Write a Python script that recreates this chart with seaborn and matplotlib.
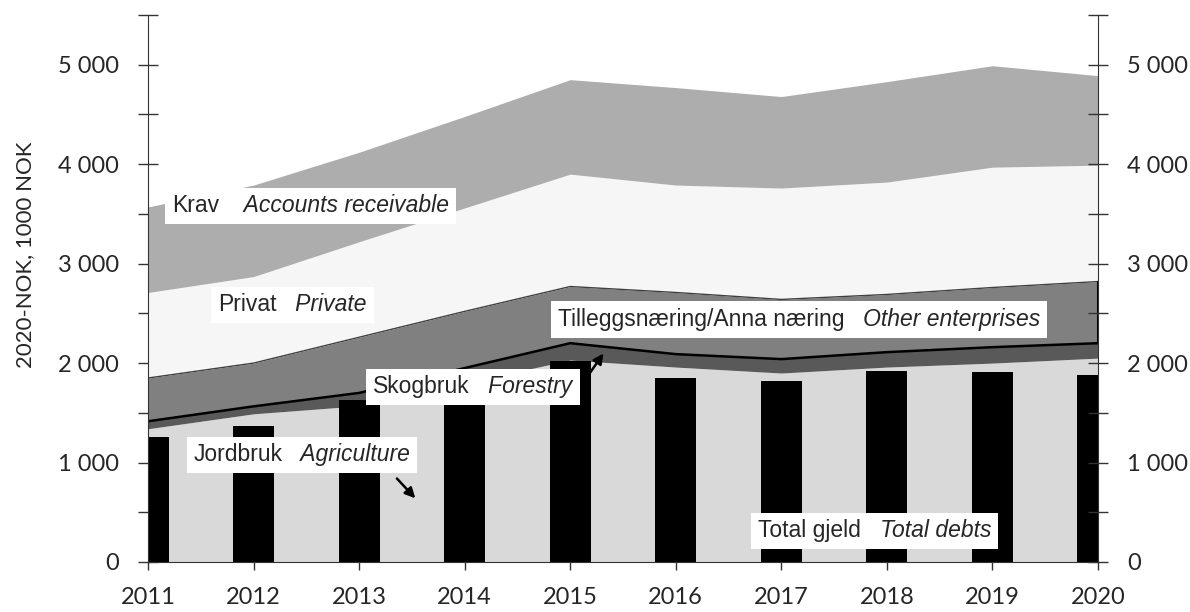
import numpy as np
import matplotlib.pyplot as plt
import seaborn as sns
from matplotlib.ticker import MultipleLocator, FuncFormatter

# ---- data (1000 NOK, 2020 kroner) ----
years = [2011, 2012, 2013, 2014, 2015, 2016, 2017, 2018, 2019, 2020]
jordbruk = [1340, 1490, 1570, 1800, 2030, 1960, 1900, 1960, 2000, 2050]
skogbruk = [75, 75, 130, 150, 170, 130, 140, 150, 160, 150]
tillegg = [435, 435, 560, 570, 570, 620, 600, 580, 600, 620]
privat = [860, 870, 960, 1040, 1130, 1080, 1120, 1130, 1210, 1170]
krav = [860, 920, 900, 920, 950, 980, 920, 1010, 1020, 900]
total_gjeld = [1260, 1370, 1630, 1800, 2025, 1850, 1820, 1920, 1910, 1880]

sns.set_style('ticks')
plt.rcParams['font.family'] = ['Lato', 'DejaVu Sans']

fig = plt.figure(figsize=(11.9, 6.12), dpi=100)
ax = fig.add_axes([0.1244, 0.0817, 0.7983, 0.8938])

# stacked areas
layers = [jordbruk, skogbruk, tillegg, privat, krav]
colors = ['#d9d9d9', '#595959', '#808080', '#f6f6f6', '#adadad']
bottom = np.zeros(len(years))
tops = []
for vals, c in zip(layers, colors):
    top = bottom + np.array(vals)
    ax.fill_between(years, bottom, top, color=c, lw=0, zorder=1)
    tops.append(top)
    bottom = top

# edge lines
ax.plot(years, tops[1], color='black', lw=1.8, zorder=1.5)
ax.plot(years, tops[2], color='#404040', lw=1, zorder=1.5)
ax.plot([years[-1], years[-1]], [tops[1][-1], tops[2][-1]], color='black', lw=1.5, zorder=1.5)

# total debts bars
sns.barplot(x=years, y=total_gjeld, native_scale=True, width=0.39,
            color='black', saturation=1, linewidth=0, ax=ax, zorder=2)

ax.set_xlim(2011, 2020)
ax.set_ylim(0, 5500)
ax.set_xticks(years)
ax.set_xticklabels([str(y) for y in years])
ax.set_xlabel('')
ax.set_ylabel('')

fmt = FuncFormatter(lambda v, p: f"{int(v):,}".replace(",", " "))

ax2 = ax.twinx()
ax2.set_ylim(0, 5500)
for a in (ax, ax2):
    a.yaxis.set_major_locator(MultipleLocator(1000))
    a.yaxis.set_minor_locator(MultipleLocator(500))
    a.yaxis.set_major_formatter(fmt)
    a.tick_params(axis='y', which='both', direction='inout', length=14, width=1,
                  labelsize=17, pad=14, color='#333333')
    a.spines['top'].set_visible(False)

ax.spines['right'].set_visible(False)
ax2.spines['left'].set_visible(False)
ax2.spines['bottom'].set_visible(False)
ax2.spines['right'].set_color('#333333')
ax.spines['left'].set_color('#333333')
ax.spines['bottom'].set_color('#333333')
ax.tick_params(axis='x', direction='out', length=6, width=1, pad=12,
               labelsize=17, color='#333333')

fig.text(0.021, 1 - 255 / 612, '2020-NOK, 1000 NOK', rotation=90,
         va='center', ha='center', fontsize=16)


def label(x, y, normal, italic, gap='   ', size=16.5):
    box = dict(boxstyle='square,pad=0.3', fc='white', ec='none')
    t1 = ax2.text(x, y, normal, fontsize=size, va='center', ha='left', bbox=box,
                  zorder=6, family='Liberation Sans')
    ax2.annotate(gap + italic, xy=(1, 0), xycoords=t1, va='bottom', ha='left',
                 fontsize=size, style='italic', bbox=box, zorder=5,
                 family='Liberation Sans')


label(2011.23, 3580, 'Krav', 'Accounts receivable', gap='    ')
label(2011.66, 2585, 'Privat', 'Private')
label(2014.88, 2435, 'Tilleggsnæring/Anna næring', 'Other enterprises')
label(2013.13, 1760, 'Skogbruk', 'Forestry')
label(2011.43, 1076, 'Jordbruk', 'Agriculture')
label(2016.78, 312, 'Total gjeld', 'Total debts')

arrow = dict(arrowstyle='-|>', color='black', lw=1.8, mutation_scale=15)
ax2.annotate('', xy=(2015.33, 2120), xytext=(2015.12, 1800), arrowprops=arrow, zorder=7)
ax2.annotate('', xy=(2013.55, 620), xytext=(2013.34, 860), arrowprops=arrow, zorder=7)

fig.savefig('out.png', dpi=100)
